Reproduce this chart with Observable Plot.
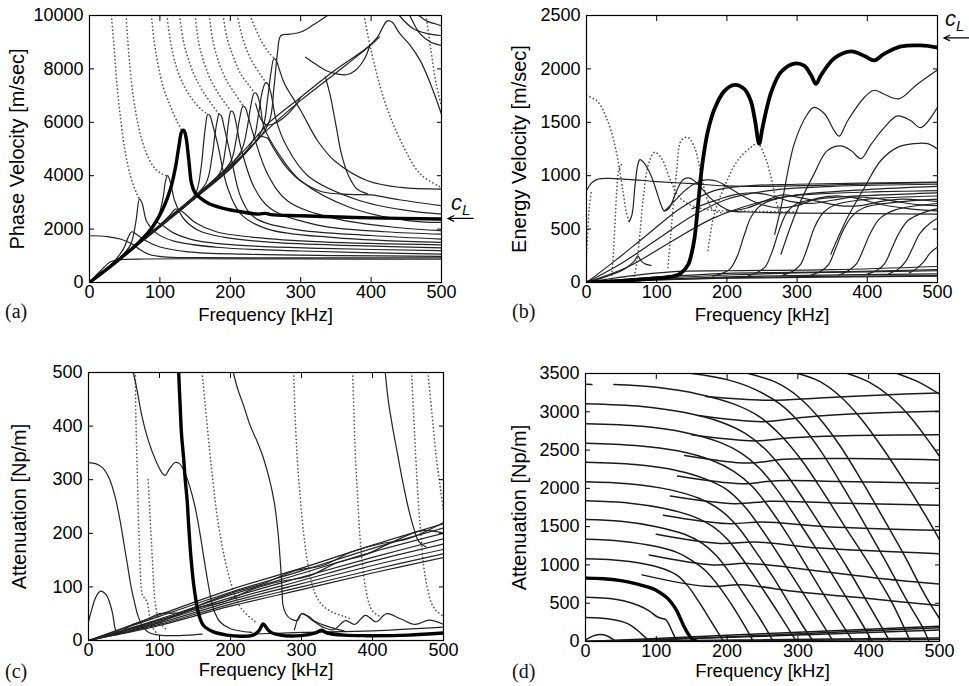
<!DOCTYPE html>
<html><head><meta charset="utf-8">
<script src="https://cdn.jsdelivr.net/npm/d3@7"></script>
<script src="https://cdn.jsdelivr.net/npm/@observablehq/plot@0.6"></script>
<style>
body{margin:0;background:#fff;width:969px;height:686px;position:relative;overflow:hidden;font-family:"Liberation Sans",Arial,sans-serif}
.panel{position:absolute}
.tag{position:absolute;font-family:"Liberation Serif","Times New Roman",serif;font-size:20px;color:#111}
.cl{position:absolute;font-family:"Liberation Sans",Arial,sans-serif;font-style:italic;font-size:22px;color:#111}
.cl sub{font-size:15px;vertical-align:-5px}
g[aria-label="y-axis label"] text{font-size:20px}
g[aria-label="x-axis label"] text{font-size:18.5px}
</style></head><body>
<div id="pa" class="panel" style="left:0;top:0"></div>
<div id="pb" class="panel" style="left:480px;top:0"></div>
<div id="pc" class="panel" style="left:0;top:350px"></div>
<div id="pd" class="panel" style="left:480px;top:350px"></div>
<div class="tag" style="left:5px;top:300px">(a)</div>
<div class="tag" style="left:512px;top:300px">(b)</div>
<div class="tag" style="left:5px;top:660px">(c)</div>
<div class="tag" style="left:512px;top:660px">(d)</div>
<div class="cl" style="left:451px;top:190px">c<sub>L</sub></div>
<div class="cl" style="left:945px;top:6px">c<sub>L</sub></div>
<script>
// ---------- tick values ----------
const freqTicks = [0,100,200,300,400,500];
const phaseTicks = [0,2000,4000,6000,8000,10000];
const energyTicks = [0,500,1000,1500,2000,2500];
const attenCTicks = [0,100,200,300,400,500];
const attenDTicks = [0,500,1000,1500,2000,2500,3000,3500];
const cLPhase = [2400];
const cLEnergy = [2290];

// ---------- panel (a): phase velocity ----------
const aThick = [[0,0],[40,820],[70,1500],[90,2100],[105,2800],[115,3500],[122,4300],[127,5100],[131,5650],[134,5700],[137,5450],[141,4600],[145,3700],[150,3350],[158,3150],[170,2950],[190,2780],[215,2650],[240,2560],[250,2590],[258,2540],[300,2500],[400,2420],[500,2380]];
const aSolid = [
 [[0,0],[15,420],[30,780],[45,860],[80,880],[150,890],[300,885],[500,870]],
 [[0,1750],[25,1720],[45,1620],[60,1450],[72,1230],[85,1050],[105,960],[150,930],[300,925],[500,920]],
 [[0,0],[30,650],[48,1250],[56,1750],[60,1900],[66,1820],[80,1560],[100,1330],[140,1150],[220,1060],[350,1010],[500,980]],
 [[0,0],[40,850],[58,1400],[66,2300],[71,3120],[75,2950],[81,2300],[95,1850],[120,1550],[180,1320],[300,1180],[500,1060]],
 [[0,0],[60,1250],[85,1900],[95,2250],[103,2150],[120,1850],[150,1580],[210,1400],[330,1280],[500,1190]],
 [[0,0],[70,1500],[95,2300],[104,3100],[108,3800],[111,4000],[115,3750],[121,3060],[135,2350],[155,1950],[190,1700],[260,1500],[380,1380],[500,1300]],
 [[0,0],[90,1900],[115,2550],[122,2750],[132,2650],[150,2250],[180,1900],[230,1700],[330,1520],[500,1410]],
 [[0,0],[120,2600],[150,3300],[158,4200],[162,5200],[165,5900],[168,6300],[171,6250],[175,5900],[182,5190],[196,3560],[215,2560],[253,2000],[348,1680],[500,1500]],
 [[0,0],[130,2800],[165,3700],[174,4700],[178,5500],[181,6000],[184,6300],[187,6250],[191,5850],[201,4690],[215,3190],[234,2440],[290,2000],[400,1760],[500,1625]],
 [[0,0],[150,3200],[185,4100],[193,5000],[197,5900],[201,6420],[204,6380],[208,6000],[215,5060],[234,3560],[258,2750],[324,2150],[420,1900],[500,1810]],
 [[0,0],[160,3400],[200,4500],[208,5300],[213,6100],[218,6600],[221,6560],[226,6150],[234,5440],[253,4060],[281,3060],[348,2400],[440,2050],[500,1940]],
 [[0,0],[180,3900],[215,4900],[224,5800],[229,6600],[234,7100],[237,7080],[242,6700],[248,5810],[272,4690],[300,3810],[371,2800],[450,2330],[500,2250]],
 [[0,0],[200,4300],[232,5300],[240,6300],[245,7100],[250,7480],[253,7450],[258,7050],[265,6100],[280,5100],[310,4000],[380,3100],[450,2700],[500,2560]],
 [[0,0],[220,4800],[245,5700],[253,6900],[258,7900],[262,8380],[265,8330],[270,7950],[277,7440],[300,6440],[324,5310],[348,4560],[395,3810],[442,3560],[500,3500]],
 [[0,0],[230,5100],[255,6000],[262,7300],[267,8600],[272,9250],[285,9300],[300,9380],[318,9650],[338,10000]],
 [[0,0],[100,2100],[150,3250],[200,4400],[245,5700],[253,5940],[300,6940],[348,7940],[395,8810],[409,9190],[423,9800],[430,9750],[440,9350],[455,8900],[470,8300],[485,7400],[500,6300]],
 [[0,0],[150,3150],[200,4250],[250,5650],[300,6820],[350,7850],[400,8900],[412,9200]],
 [[240,5500],[248,5450],[253,5400],[262,5000],[280,4300],[300,3800],[330,3400],[370,3300],[400,3280],[440,3100],[500,2875]],
 [[236,6700],[244,6100],[252,5900],[262,5950],[275,6150],[290,6550],[300,6940]],
 [[307,8440],[320,8200],[335,7950],[350,7820],[365,7780],[378,7950],[390,8350],[398,8850]],
 [[335,7700],[342,7000],[350,5900],[358,4800],[368,4000],[380,3500],[395,3320]],
 [[440,10000],[460,9500],[480,9320],[500,9250]],
 [[468,10000],[480,9780],[492,9680],[500,9620]],
 [[455,10000],[470,9300],[485,9000],[500,8880]]
];
const aDotted = [
 [[31,10000],[35,8800],[38,7700],[43,6400],[50,5000],[58,4000],[66,3400],[71,3120]],
 [[52,10000],[56,8500],[62,7000],[70,5800],[80,4900],[92,4300],[104,4050],[110,4000]],
 [[88,10000],[92,9000],[97,8200],[105,7300],[115,6600],[125,6000],[131,5700]],
 [[110,10000],[114,9200],[120,8400],[130,7600],[145,6900],[158,6500],[168,6300]],
 [[128,10000],[133,9100],[140,8400],[150,7700],[165,7000],[177,6550],[184,6300]],
 [[150,10000],[155,9000],[162,8300],[172,7600],[185,7000],[196,6600],[201,6440]],
 [[170,10000],[175,9100],[183,8300],[194,7600],[206,7100],[218,6625]],
 [[190,10000],[195,9200],[205,8400],[215,7800],[226,7400],[234,7125]],
 [[210,10000],[216,9300],[225,8600],[235,8100],[245,7700],[251,7480]],
 [[228,10000],[236,9500],[245,9000],[255,8600],[263,8380]],
 [[390,10000],[400,8690],[419,6810],[442,5310],[470,4060],[500,3560]],
 [[478,10000],[485,8700],[492,7500],[500,6600]]
];

// ---------- panel (b): energy velocity ----------
const bThick = [[0,0],[60,20],[100,40],[125,60],[135,90],[145,170],[150,280],[154,420],[157,600],[160,800],[163,1000],[167,1200],[173,1420],[182,1620],[196,1790],[211,1850],[225,1810],[234,1700],[240,1520],[246,1300],[251,1460],[263,1780],[277,1970],[296,2050],[310,2030],[320,1940],[327,1860],[334,1940],[353,2100],[377,2165],[396,2120],[410,2080],[424,2140],[448,2210],[476,2220],[500,2200]];
const bSolid = [
 [[61,570],[65,640],[69,900],[73,1100],[76,1150],[82,1120],[92,1000],[100,850],[106,730],[111,670],[118,700],[128,850],[137,960],[145,980],[152,960],[163,890],[175,800],[190,720],[205,670],[230,660],[300,650],[400,645],[500,640]],
 [[0,860],[7,930],[15,965],[30,975],[60,965],[100,945],[150,925],[200,905],[260,900],[330,910],[420,925],[500,935]],
 [[0,0],[40,200],[87,450],[135,700],[182,860],[230,905],[300,920],[500,940]],
 [[0,0],[50,180],[100,400],[150,620],[200,780],[260,860],[350,900],[500,920]],
 [[0,0],[60,150],[120,380],[180,600],[240,740],[300,820],[400,870],[500,900]],
 [[111,670],[125,760],[140,860],[155,930],[170,960],[185,950],[200,900],[220,820],[245,740],[270,700],[300,720],[330,790],[360,810],[390,780],[420,730],[460,690],[500,670]],
 [[150,690],[180,760],[210,820],[240,840],[265,810],[290,760],[320,740],[350,770],[380,800],[410,790],[440,760],[470,730],[500,720]],
 [[200,660],[230,700],[260,780],[280,820],[300,800],[330,760],[360,720],[390,720],[420,760],[450,780],[480,770],[500,760]],
 [[268,450],[277,700],[296,1300],[315,1580],[324,1640],[339,1580],[353,1420],[360,1370],[372,1515],[396,1735],[410,1800],[425,1760],[445,1720],[470,1850],[500,1990]],
 [[277,265],[301,700],[324,1015],[343,1235],[362,1280],[377,1235],[391,1160],[405,1290],[424,1450],[443,1560],[462,1515],[476,1450],[500,1640]],
 [[348,265],[372,610],[396,890],[419,1140],[443,1265],[467,1300],[486,1300],[500,1250]],
 [[180,60],[195,90],[205,130],[215,250],[225,450],[235,620],[250,730],[280,800],[330,830],[420,850],[500,860]],
 [[230,60],[245,100],[255,150],[265,300],[275,500],[285,650],[300,740],[340,790],[420,820],[500,840]],
 [[280,70],[295,110],[305,170],[315,330],[325,520],[338,660],[355,730],[400,780],[500,810]],
 [[320,70],[335,110],[345,170],[355,320],[365,480],[378,620],[395,700],[440,750],[500,780]],
 [[360,70],[375,120],[385,180],[395,320],[405,470],[418,600],[440,680],[500,740]],
 [[400,80],[415,120],[425,180],[435,320],[445,460],[458,580],[478,650],[500,690]],
 [[430,80],[445,130],[455,200],[465,330],[475,460],[490,560],[500,600]],
 [[460,90],[470,130],[480,190],[490,280],[500,330]],
 [[0,0],[30,60],[55,130],[68,200],[73,250],[78,200],[85,170],[92,160]],
 [[0,0],[100,40],[200,70],[300,90],[400,100],[500,110]],
 [[0,0],[100,30],[250,60],[500,80]],
 [[0,0],[100,50],[200,85],[350,100],[500,120]],
 [[0,0],[150,35],[300,55],[500,65]],
 [[0,0],[60,60],[120,100],[200,110],[350,120],[500,150]],
 [[0,0],[80,20],[200,40],[500,60]]
];
const bDotted = [
 [[0,1750],[15,1700],[28,1550],[38,1350],[46,1100],[52,850],[57,650],[61,570]],
 [[0,250],[2,500],[4,700],[7,860]],
 [[35,0],[37,150],[39,350],[41,600],[43,850],[46,1050],[52,1130]],
 [[68,60],[72,200],[76,450],[81,800],[88,1100],[97,1220],[108,1150],[120,950],[132,800],[150,720],[175,680],[210,670],[300,660]],
 [[116,140],[120,450],[128,1015],[135,1330],[144,1360],[154,1265],[163,1015],[173,765],[182,670],[201,650]],
 [[173,300],[182,640],[196,890],[215,1140],[234,1265],[244,1300],[253,1200],[263,985],[270,765],[277,620]]
];

// ---------- panel (c): attenuation ----------
const cThick = [[127,500],[129,440],[131,385],[134,340],[136,304],[139,260],[141,217],[144,160],[148,106],[152,70],[155,50],[162,28],[176,16],[195,10],[215,8],[232,10],[240,18],[246,31],[250,25],[256,16],[270,10],[298,9],[320,14],[328,19],[336,14],[360,10],[392,9],[450,10],[500,14]];
const cSolid = [
 [[0,0],[100,48],[200,95],[300,135],[400,178],[500,218]],
 [[0,0],[100,45],[200,90],[300,130],[400,172],[500,210]],
 [[0,0],[100,40],[200,85],[300,125],[400,165],[500,200]],
 [[0,0],[100,38],[200,80],[300,118],[400,155],[500,190]],
 [[0,0],[100,36],[200,76],[300,112],[400,148],[500,180]],
 [[0,0],[100,33],[200,72],[300,106],[400,140],[500,170]],
 [[0,0],[100,30],[200,68],[300,100],[400,132],[500,162]],
 [[0,0],[100,28],[200,64],[300,95],[400,126],[500,155]],
 [[40,10],[60,28],[80,38],[100,50],[130,52],[160,68],[200,88],[250,108],[290,130],[330,140],[370,165],[410,180],[450,190],[500,220]],
 [[60,22],[90,30],[120,45],[150,60],[190,72],[230,95],[270,110],[310,120],[350,145],[390,160],[430,185],[470,205],[500,200]],
 [[0,332],[10,330],[20,322],[30,300],[38,265],[45,220],[50,180],[55,140],[60,100],[65,70],[70,45],[77,25],[85,15],[100,10],[120,9],[140,10],[160,12]],
 [[0,35],[5,60],[10,80],[17,92],[25,85],[30,70],[34,50],[37,25],[40,12]],
 [[63,500],[68,470],[75,420],[85,370],[95,335],[104,312],[108,308],[114,320],[122,332],[128,330],[135,315],[142,290],[150,250],[157,200],[163,150],[168,110],[173,75],[178,52],[185,35],[200,22],[230,15]],
 [[204,500],[210,470],[218,440],[228,400],[238,370],[246,342],[255,300],[262,255],[267,200],[270,150],[272,110],[273,80],[274,65],[278,50],[285,40],[295,38],[300,50],[310,45],[320,35],[340,25],[360,18]],
 [[418,500],[422,450],[428,400],[435,350],[442,300],[450,250],[458,210],[465,185],[475,175]],
 [[290,20],[300,50],[315,38],[330,25],[345,20],[362,37],[375,30],[390,47],[405,35],[420,50],[440,40],[460,30],[480,38],[500,30]],
 [[230,12],[300,15],[400,18],[500,25]]
];
const cDotted = [
 [[66,500],[67,400],[69,300],[71,200],[73,130],[75,90],[77,82],[80,78],[83,70],[86,45],[90,25],[95,15]],
 [[84,300],[86,250],[88,200],[90,150],[92,100],[95,60],[100,35],[110,20]],
 [[160,500],[175,300],[185,200],[200,110],[215,60],[235,35]],
 [[289,500],[291,420],[294,340],[298,270],[303,200],[308,150],[314,110],[320,85],[330,65],[345,52],[360,45],[370,40]],
 [[372,500],[374,420],[376,340],[379,270],[382,200],[386,140],[390,100],[395,70],[400,55],[410,45]],
 [[455,500],[458,420],[461,340],[464,270],[468,200],[472,140],[477,100],[483,70],[490,55],[500,45]],
 [[478,500],[484,420],[490,340],[496,280],[500,242]]
];

// ---------- panel (d): attenuation ----------
const dThick = [[0,827],[25,820],[50,795],[75,745],[95,690],[105,640],[115,570],[122,500],[129,400],[134,300],[139,200],[145,100],[150,40],[155,10],[158,0]];
const dSolid = [
 [[0,315],[20,308],[40,285],[55,250],[65,205],[74,140],[82,75],[88,25],[91,0]],
 [[0,578],[30,565],[55,530],[75,470],[90,400],[100,330],[108,300],[113,290],[118,220],[122,140],[126,60],[129,0]],
 [[0,1080],[40,1065],[80,1020],[110,950],[130,860],[145,720],[160,520],[175,300],[187,120],[195,0]],
 [[0,1334],[50,1310],[100,1240],[130,1160],[150,1060],[170,920],[190,700],[210,430],[225,200],[237,0]],
 [[0,1592],[50,1570],[100,1500],[140,1400],[165,1280],[185,1120],[205,880],[225,600],[245,320],[258,120],[265,0]],
 [[0,1837],[60,1810],[110,1740],[150,1640],[180,1500],[200,1340],[220,1100],[245,760],[265,480],[285,190],[298,0]],
 [[0,2087],[60,2060],[120,1980],[160,1870],[190,1720],[215,1500],[240,1180],[265,840],[290,460],[310,160],[322,0]],
 [[0,2340],[70,2310],[130,2230],[170,2120],[200,1980],[225,1760],[250,1450],[275,1100],[300,740],[325,370],[350,0]],
 [[0,2590],[70,2560],[130,2490],[180,2360],[210,2220],[235,2030],[260,1740],[285,1400],[310,1020],[340,560],[362,230],[378,0]],
 [[0,2844],[80,2810],[140,2730],[190,2600],[220,2460],[245,2270],[270,1990],[300,1580],[330,1150],[360,700],[385,320],[405,0]],
 [[0,3106],[80,3070],[140,2990],[190,2870],[225,2720],[255,2500],[280,2230],[310,1830],[340,1400],[370,960],[400,480],[430,0]],
 [[40,3356],[100,3320],[160,3230],[210,3100],[245,2940],[275,2700],[305,2370],[335,1960],[365,1520],[400,1020],[430,560],[459,0]],
 [[150,3500],[200,3420],[240,3290],[275,3100],[305,2830],[335,2450],[365,2000],[395,1520],[425,1030],[455,520],[477,170],[485,0]],
 [[230,3500],[270,3380],[300,3200],[330,2920],[360,2550],[390,2100],[420,1620],[450,1130],[480,600],[500,300]],
 [[300,3500],[330,3400],[360,3200],[390,2900],[420,2520],[450,2100],[480,1650],[500,1330]],
 [[370,3500],[400,3390],[430,3200],[460,2920],[490,2550],[500,2420]],
 [[440,3500],[470,3390],[500,3230]],
 [[170,3200],[260,3150],[330,3180],[420,3220],[500,3246]],
 [[160,2950],[250,2870],[310,2930],[400,2980],[500,3006]],
 [[150,2700],[240,2620],[290,2660],[380,2690],[500,2700]],
 [[140,2430],[230,2330],[280,2380],[370,2390],[500,2371]],
 [[130,2160],[220,2060],[270,2100],[360,2090],[500,2065]],
 [[120,1900],[210,1800],[260,1830],[350,1810],[500,1780]],
 [[110,1650],[200,1540],[250,1560],[340,1500],[500,1452]],
 [[100,1400],[190,1280],[240,1300],[330,1220],[500,1146]],
 [[90,1130],[180,1000],[230,1020],[320,930],[420,820],[500,750]],
 [[80,870],[170,720],[220,740],[300,650],[400,560],[500,470]],
 [[0,0],[100,40],[200,80],[300,120],[400,160],[500,200]],
 [[0,0],[250,70],[500,150]],
 [[40,0],[200,60],[500,180]],
 [[0,0],[500,25]],
 [[0,0],[500,45]],
 [[0,20],[10,70],[20,90],[30,75],[40,20]],
 [[0,3360],[9,3355]]
];
const dDotted = [];

// ---------- helpers ----------
function rows(curves){ return curves.flatMap((c,i)=>c.map(([f,v])=>({f,v,id:i}))); }
const one = (c)=>c.map(([f,v])=>({f,v}));
const fmt = d3.format("d");

function panel(opts){
  const {el,width,height,ml,mr,mt,mb,yDomain,yTicks,yLabel,yOff,xOff,thick,solid,dotted,solidColor,solidWidth,thickWidth,cL} = opts;
  const marks = [
    Plot.line(rows(dotted),{x:"f",y:"v",z:"id",stroke:"#555",strokeWidth:1.7,strokeDasharray:"0.1,3.6",strokeLinecap:"round",curve:"catmull-rom",clip:true}),
    Plot.line(rows(solid),{x:"f",y:"v",z:"id",stroke:solidColor,strokeWidth:solidWidth,curve:"catmull-rom",clip:true}),
    Plot.line(one(thick),{x:"f",y:"v",stroke:"#000",strokeWidth:thickWidth,curve:"catmull-rom",clip:true}),
    Plot.frame({stroke:"#000",strokeWidth:1.2}),
    Plot.axisX({ticks:freqTicks,tickSize:-5,tickPadding:8,tickFormat:fmt,label:"Frequency [kHz]",labelAnchor:"center",labelArrow:"none",labelOffset:xOff}),
    Plot.axisX({ticks:freqTicks,anchor:"top",tickSize:-5,tickFormat:()=>"",label:null}),
    Plot.axisY({ticks:yTicks,tickSize:-5,tickPadding:11,tickFormat:fmt,label:yLabel,labelAnchor:"center",labelArrow:"none",labelOffset:yOff}),
    Plot.axisY({ticks:yTicks,anchor:"right",tickSize:-5,tickFormat:()=>"",label:null})
  ];
  if (cL) marks.push(Plot.arrow(cL.map(v=>({v})),{x1:()=>545,x2:()=>509,y1:"v",y2:"v",stroke:"#000",strokeWidth:1.2,headLength:8,headAngle:50}));
  const svg = Plot.plot({
    width,height,marginLeft:ml,marginRight:mr,marginTop:mt,marginBottom:mb,
    style:{fontFamily:"'Liberation Sans',Arial,sans-serif",fontSize:"18px",color:"#000",background:"transparent",overflow:"visible"},
    x:{domain:[0,500]},
    y:{domain:yDomain},
    marks
  });
  document.getElementById(el).appendChild(svg);
}

panel({el:"pa",width:480,height:335,ml:89,mr:39,mt:15,mb:53,yDomain:[0,10000],yTicks:phaseTicks,yLabel:"Phase Velocity [m/sec]",yOff:80,xOff:38,thick:aThick,solid:aSolid,dotted:aDotted,solidColor:"#222",solidWidth:1.2,thickWidth:3.4,cL:cLPhase});
panel({el:"pb",width:489,height:335,ml:106,mr:32,mt:15,mb:53,yDomain:[0,2500],yTicks:energyTicks,yLabel:"Energy Velocity [m/sec]",yOff:75,xOff:38,thick:bThick,solid:bSolid,dotted:bDotted,solidColor:"#222",solidWidth:1.2,thickWidth:3.8,cL:cLEnergy});
panel({el:"pc",width:480,height:336,ml:88,mr:37,mt:22,mb:46,yDomain:[0,500],yTicks:attenCTicks,yLabel:"Attenuation [Np/m]",yOff:77,xOff:35,thick:cThick,solid:cSolid,dotted:cDotted,solidColor:"#222",solidWidth:1.2,thickWidth:3.4,cL:null});
panel({el:"pd",width:489,height:336,ml:105,mr:30,mt:23,mb:45,yDomain:[0,3500],yTicks:attenDTicks,yLabel:"Attenuation [Np/m]",yOff:74,xOff:35,thick:dThick,solid:dSolid,dotted:dDotted,solidColor:"#1a1a1a",solidWidth:1.5,thickWidth:3.4,cL:null});
</script>
</body></html>
